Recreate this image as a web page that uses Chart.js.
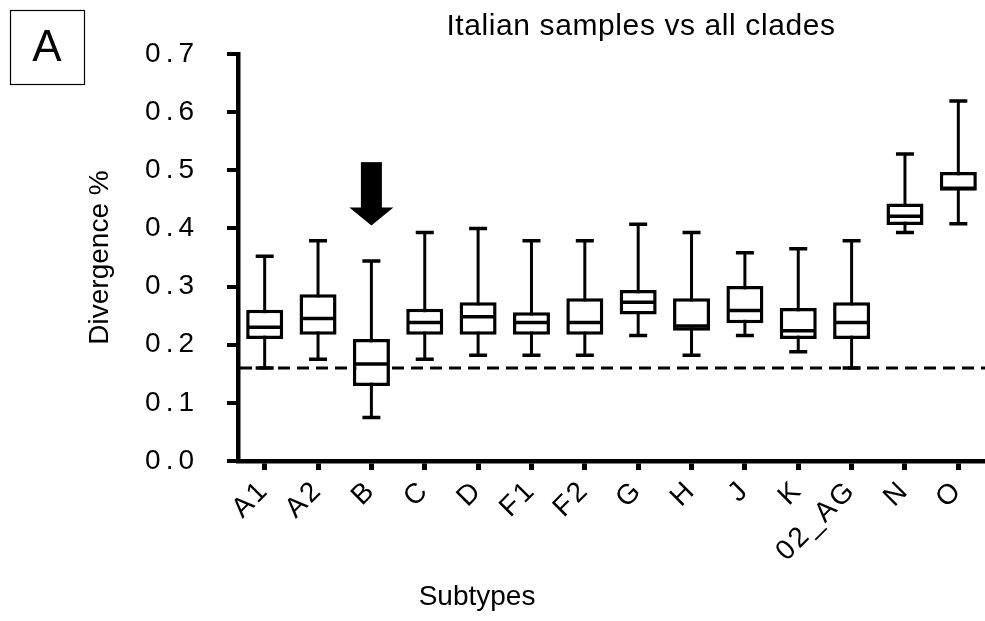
<!DOCTYPE html>
<html>
<head>
<meta charset="utf-8">
<title>Italian samples vs all clades</title>
<script src="https://cdn.jsdelivr.net/npm/chart.js@4/dist/chart.umd.min.js"></script>
<style>
  html, body { margin: 0; padding: 0; background: #fff; }
  #wrap { width: 985px; height: 621px; }
</style>
</head>
<body>
<div id="wrap"><canvas id="chart" width="985" height="621"></canvas></div>
<script>
// 数据
const subtypes = ['A1', 'A2', 'B', 'C', 'D', 'F1', 'F2', 'G', 'H', 'J', 'K', '02_AG', 'N', 'O'];
const whiskerLow  = [0.160, 0.175, 0.075, 0.175, 0.182, 0.182, 0.182, 0.216, 0.182, 0.216, 0.188, 0.160, 0.393, 0.408];
const boxLow      = [0.210, 0.217, 0.129, 0.217, 0.217, 0.217, 0.217, 0.252, 0.224, 0.237, 0.210, 0.210, 0.406, 0.465];
const medians     = [0.230, 0.245, 0.167, 0.238, 0.248, 0.238, 0.238, 0.273, 0.232, 0.259, 0.224, 0.238, 0.421, 0.469];
const boxHigh     = [0.260, 0.287, 0.210, 0.262, 0.273, 0.256, 0.280, 0.294, 0.280, 0.301, 0.263, 0.273, 0.443, 0.497];
const whiskerHigh = [0.352, 0.379, 0.344, 0.393, 0.400, 0.379, 0.379, 0.407, 0.393, 0.358, 0.365, 0.379, 0.528, 0.619];

const yTicks = [0, 0.1, 0.2, 0.3, 0.4, 0.5, 0.6, 0.7];
const cutoff = 0.16;            // 虚线
const arrowAt = 'B';            // 箭头所指的亚型
const arrowValues = [0.514, 0.436, 0.405]; // 箭杆顶, 箭头底, 箭尖

const titleText = 'Italian samples vs all clades';
const panelLabel = 'A';
const xTitle = 'Subtypes';
const yTitle = 'Divergence %';

const FONT = "'Liberation Sans', Arial, Helvetica, sans-serif";
Chart.defaults.font.family = FONT;
Chart.defaults.color = '#000';

// 刻度文字加字距
function spaceLabels(spacing) {
  return function(scale) {
    if (scale._spaced) return;
    const draw = scale.drawLabels;
    scale.drawLabels = function(area) {
      const c = this.ctx;
      const prev = c.letterSpacing;
      c.letterSpacing = spacing;
      draw.call(this, area);
      c.letterSpacing = prev;
    };
    scale._spaced = true;
  };
}

// 装饰: 虚线、箭头、标题、面板标签
const decorPlugin = {
  id: 'decor',
  beforeDatasetsDraw(chart) {
    const { ctx, chartArea } = chart;
    const y = chart.scales.y.getPixelForValue(cutoff);
    ctx.save();
    ctx.strokeStyle = '#000';
    ctx.lineWidth = 3;
    ctx.setLineDash([12, 7]);
    ctx.beginPath();
    ctx.moveTo(chartArea.left + 2, y);
    ctx.lineTo(chartArea.right, y);
    ctx.stroke();
    ctx.restore();
  },
  afterDatasetsDraw(chart) {
    const { ctx } = chart;
    const xs = chart.scales.x, ys = chart.scales.y;
    const cx = xs.getPixelForValue(subtypes.indexOf(arrowAt));
    const yTop = ys.getPixelForValue(arrowValues[0]);
    const yBase = ys.getPixelForValue(arrowValues[1]);
    const yTip = ys.getPixelForValue(arrowValues[2]);
    ctx.save();
    ctx.fillStyle = '#000';
    ctx.fillRect(cx - 10.5, yTop, 21, yBase - yTop + 1);
    ctx.beginPath();
    ctx.moveTo(cx - 22, yBase);
    ctx.lineTo(cx + 22, yBase);
    ctx.lineTo(cx, yTip);
    ctx.closePath();
    ctx.fill();
    ctx.restore();
  },
  afterDraw(chart) {
    const { ctx, chartArea } = chart;
    ctx.save();
    ctx.fillStyle = '#000';
    // 标题
    ctx.font = '30px ' + FONT;
    ctx.letterSpacing = '0.6px';
    ctx.textAlign = 'center';
    ctx.textBaseline = 'middle';
    ctx.fillText(titleText, 641, 27);
    ctx.letterSpacing = '0px';
    // x 轴标题
    ctx.font = '28px ' + FONT;
    ctx.fillText(xTitle, chartArea.left + (chartArea.right - chartArea.left) * 0.32, 597);
    // 面板标签
    ctx.strokeStyle = '#000';
    ctx.lineWidth = 1.2;
    ctx.strokeRect(10.5, 10.5, 74, 74);
    ctx.font = '44px ' + FONT;
    ctx.fillText(panelLabel, 47, 49);
    ctx.restore();
  }
};

const ctx = document.getElementById('chart');

new Chart(ctx, {
  type: 'bar',
  data: {
    labels: subtypes,
    datasets: [
      {
        // 须线
        label: 'range',
        data: subtypes.map((s, i) => [whiskerLow[i], whiskerHigh[i]]),
        backgroundColor: '#000',
        borderWidth: 0,
        barThickness: 3,
        grouped: false,
        inflateAmount: 0,
        order: 3
      },
      {
        // 箱体
        label: 'IQR',
        data: subtypes.map((s, i) => [boxLow[i], boxHigh[i]]),
        backgroundColor: '#fff',
        borderColor: '#000',
        borderWidth: 3.5,
        borderSkipped: false,
        barThickness: 37,
        grouped: false,
        inflateAmount: 0,
        order: 2
      },
      {
        type: 'line',
        label: 'median',
        data: medians,
        showLine: false,
        pointStyle: 'line',
        pointRadius: 17,
        pointHoverRadius: 17,
        pointBorderWidth: 3.5,
        pointBorderColor: '#000',
        order: 1
      },
      {
        type: 'line',
        label: 'min',
        data: whiskerLow,
        showLine: false,
        pointStyle: 'line',
        pointRadius: 9,
        pointHoverRadius: 9,
        pointBorderWidth: 3.5,
        pointBorderColor: '#000',
        order: 1
      },
      {
        type: 'line',
        label: 'max',
        data: whiskerHigh,
        showLine: false,
        pointStyle: 'line',
        pointRadius: 9,
        pointHoverRadius: 9,
        pointBorderWidth: 3.5,
        pointBorderColor: '#000',
        order: 1
      }
    ]
  },
  options: {
    responsive: false,
    animation: false,
    layout: {
      autoPadding: false,
      padding: { top: 54, left: 0, right: -3, bottom: 0 }
    },
    plugins: {
      legend: { display: false },
      tooltip: { enabled: false },
      title: { display: false }
    },
    scales: {
      x: {
        grid: {
          offset: false,
          drawOnChartArea: false,
          color: '#000',
          lineWidth: 5,
          tickLength: 9
        },
        border: { color: '#000', width: 4.5 },
        ticks: {
          autoSkip: false,
          maxRotation: 45,
          minRotation: 45,
          padding: 4,
          font: { size: 28 },
          color: '#000'
        },
        afterUpdate: spaceLabels('2.5px'),
        afterFit(scale) {
          scale.height = 160;
          scale.paddingLeft = 0;
          scale.paddingRight = 0;
        }
      },
      y: {
        min: 0,
        max: 0.7,
        afterBuildTicks(scale) { scale.ticks = yTicks.map(v => ({ value: v })); },
        grid: {
          drawOnChartArea: false,
          color: '#000',
          lineWidth: 4,
          tickLength: 11
        },
        border: { color: '#000', width: 4.5 },
        ticks: {
          padding: 28,
          font: { size: 28 },
          color: '#000',
          callback: v => Number(v).toFixed(1)
        },
        title: {
          display: true,
          text: yTitle,
          font: { size: 28 },
          color: '#000',
          padding: { top: 83, bottom: 0 }
        },
        afterUpdate: spaceLabels('5px'),
        afterFit(scale) { scale.width = 238; }
      }
    }
  },
  plugins: [decorPlugin]
});
</script>
</body>
</html>
